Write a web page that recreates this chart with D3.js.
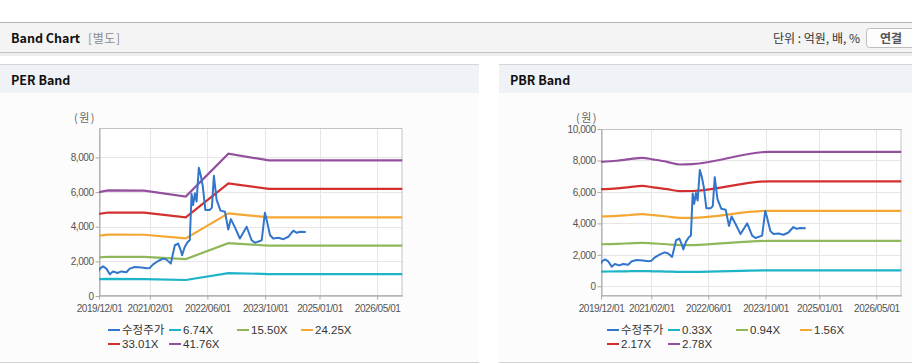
<!DOCTYPE html>
<html>
<head>
<meta charset="utf-8">
<script src="https://cdn.jsdelivr.net/npm/d3@7"></script>
<style>
body { margin: 0; background: #fff; }
svg { display: block; font-family: "Liberation Sans", Arial, "Noto Sans CJK KR", sans-serif; }
</style>
</head>
<body>
<svg id="vis" width="912" height="364"></svg>
<script>
// adjusted share price (수정주가)
var priceDates = ['2019-12-01','2019-12-08','2020-01-04','2020-02-01','2020-03-01','2020-03-28','2020-05-04','2020-06-07',
  '2020-07-19','2020-08-16','2020-09-27','2020-11-23','2021-01-07','2021-02-01','2021-03-01','2021-04-12','2021-05-24',
  '2021-06-22','2021-07-28','2021-08-31','2021-09-28','2021-10-20','2021-10-31','2021-11-23','2021-12-16','2022-01-04',
  '2022-01-19','2022-02-01','2022-02-16','2022-03-02','2022-03-21','2022-04-07','2022-04-24','2022-05-15','2022-06-22',
  '2022-07-09','2022-07-26','2022-08-18','2022-09-20','2022-10-27','2022-11-24','2022-12-16','2023-01-19','2023-03-02',
  '2023-04-28','2023-06-09','2023-07-07','2023-09-02','2023-09-29','2023-10-14','2023-11-11','2023-12-08','2024-01-20',
  '2024-03-02','2024-04-13','2024-05-25','2024-06-23','2024-07-21','2024-09-07']
var priceValues = [1450,1580,1710,1580,1250,1420,1330,1420,
  1370,1580,1670,1640,1600,1620,1830,2020,2160,
  2100,1870,2930,3030,2640,2350,2840,3100,3230,
  5900,5250,5930,5450,7400,6950,6300,4970,4970,
  5100,6940,5550,4930,4870,3840,4440,3960,3320,
  4000,3220,3070,3220,4810,4380,3510,3320,3360,
  3280,3420,3770,3650,3710,3690]

// PER band
var perDates = ['2019-12-01','2020-02-15','2020-12-15','2021-12-01','2022-11-25','2023-11-01','2026-12-01']
var perLabels = ['6.74X','15.50X','24.25X','33.01X','41.76X']
var per1 = [970, 985, 980, 925, 1325, 1265, 1265]
var per2 = [2230, 2265, 2260, 2130, 3050, 2905, 2905]
var per3 = [3485, 3540, 3535, 3330, 4770, 4545, 4545]
var per4 = [4745, 4820, 4810, 4535, 6495, 6190, 6190]
var per5 = [6000, 6095, 6085, 5740, 8215, 7830, 7830]

// PBR band
var pbrDates = ['2019-12-01','2020-04-15','2020-08-01','2020-11-15','2021-02-15','2021-06-15','2021-10-01','2022-01-15','2023-11-01','2026-12-01']
var pbrLabels = ['0.33X','0.94X','1.56X','2.17X','2.78X']
var pbr1 = [940, 945, 960, 970, 955, 940, 920, 920, 1015, 1015]
var pbr2 = [2675, 2700, 2735, 2765, 2725, 2675, 2620, 2625, 2890, 2890]
var pbr3 = [4440, 4475, 4535, 4585, 4525, 4440, 4350, 4355, 4800, 4800]
var pbr4 = [6175, 6230, 6310, 6380, 6295, 6175, 6050, 6060, 6675, 6675]
var pbr5 = [7910, 7980, 8085, 8170, 8065, 7915, 7745, 7765, 8550, 8550]

var xTicks = ['2019-12-01','2021-02-01','2022-06-01','2023-10-01','2025-01-01','2026-05-01']
var xDomain = ['2019-12-01','2026-12-01']
var perTicks = [0, 2000, 4000, 6000, 8000]
var pbrTicks = [0, 2000, 4000, 6000, 8000, 10000]

var colors = ['#3276cc', '#1db3c8', '#8fb85b', '#f5a733', '#d32f2f', '#93519d']
var parse = d3.timeParse('%Y-%m-%d')
var kr = '"Noto Sans CJK KR", sans-serif'

var svg = d3.select('#vis')

// page header
svg.append('rect').attr('x', 0).attr('y', 22).attr('width', 912).attr('height', 31).attr('fill', '#f4f4f4')
svg.append('line').attr('x1', 0).attr('x2', 912).attr('y1', 22.5).attr('y2', 22.5).attr('stroke', '#b5b5b5')
svg.append('rect').attr('x', 0).attr('y', 53).attr('width', 912).attr('height', 3).attr('fill', '#ededed')
svg.append('line').attr('x1', 0).attr('x2', 912).attr('y1', 52.5).attr('y2', 52.5).attr('stroke', '#c4c4c4')
svg.append('text').attr('x', 11).attr('y', 43).text('Band Chart')
  .style('font-family', kr).style('font-weight', 'bold').style('font-size', '12.5px').attr('fill', '#111')
svg.append('text').attr('x', 88).attr('y', 43).text('[별도]')
  .style('font-family', kr).style('font-size', '12px').attr('fill', '#8a8a8a').style('letter-spacing', '0.6px')
svg.append('text').attr('x', 860).attr('y', 42.5).attr('text-anchor', 'end').text('단위 : 억원, 배, %')
  .style('font-family', kr).style('font-size', '12px').attr('fill', '#333')
svg.append('rect').attr('x', 866.5).attr('y', 28.5).attr('width', 60).attr('height', 19).attr('rx', 3)
  .attr('fill', '#fdfdfd').attr('stroke', '#bdbdbd')
svg.append('text').attr('x', 891).attr('y', 42.5).attr('text-anchor', 'middle').text('연결')
  .style('font-family', kr).style('font-weight', 'bold').style('font-size', '12px').attr('fill', '#555')

function drawPanel(cfg) {
  var p = svg.append('g')
  p.append('rect').attr('x', cfg.px).attr('y', 64).attr('width', cfg.pw).attr('height', 298).attr('fill', '#fcfcfc')
  p.append('rect').attr('x', cfg.px).attr('y', 65).attr('width', cfg.pw).attr('height', 28).attr('fill', '#eff2f6')
  p.append('line').attr('x1', cfg.px).attr('x2', cfg.px + cfg.pw).attr('y1', 64.5).attr('y2', 64.5).attr('stroke', '#d6d6d6')
  p.append('line').attr('x1', cfg.px).attr('x2', cfg.px + cfg.pw).attr('y1', 362.5).attr('y2', 362.5).attr('stroke', '#d2d2d2')
  p.append('text').attr('x', cfg.px + 11).attr('y', 85).text(cfg.title)
    .style('font-family', kr).style('font-weight', 'bold').style('font-size', '12.5px').attr('fill', '#111')

  var x = d3.scaleTime().domain(xDomain.map(parse)).range([cfg.left, cfg.right])
  var y = d3.scaleLinear().domain(cfg.yDomain).range([cfg.bottom, cfg.top])

  p.append('rect').attr('x', cfg.left).attr('y', cfg.top).attr('width', cfg.right - cfg.left)
    .attr('height', cfg.bottom - cfg.top).attr('fill', '#fff')

  // grid
  p.append('g').selectAll('line').data(cfg.yTicks).enter().append('line')
    .attr('x1', cfg.left).attr('x2', cfg.right)
    .attr('y1', d => Math.round(y(d)) + 0.5).attr('y2', d => Math.round(y(d)) + 0.5)
    .attr('stroke', '#e6e6e6')
  p.append('g').selectAll('line').data(xTicks).enter().append('line')
    .attr('x1', d => Math.round(x(parse(d))) + 0.5).attr('x2', d => Math.round(x(parse(d))) + 0.5)
    .attr('y1', cfg.top).attr('y2', cfg.bottom)
    .attr('stroke', '#e6e6e6')

  p.append('rect').attr('x', cfg.left + 0.5).attr('y', cfg.top + 0.5).attr('width', cfg.right - cfg.left - 1)
    .attr('height', cfg.bottom - cfg.top - 1).attr('fill', 'none').attr('stroke', '#c2c2c2')

  // axes
  var xAxis = p.append('g').attr('transform', 'translate(0,' + (cfg.bottom - 0.5) + ')')
    .call(d3.axisBottom(x).tickValues(xTicks.map(parse)).tickFormat(d3.timeFormat('%Y/%m/%d')).tickSize(4).tickSizeOuter(0))
  var yAxis = p.append('g').attr('transform', 'translate(' + (cfg.left + 0.5) + ',0)')
    .call(d3.axisLeft(y).tickValues(cfg.yTicks).tickFormat(d3.format(',')).tickSize(4).tickSizeOuter(0))
  ;[xAxis, yAxis].forEach(a => {
    a.select('.domain').attr('stroke', '#aaa')
    a.selectAll('.tick line').attr('stroke', '#aaa')
    a.selectAll('.tick text').attr('fill', '#555').style('font-size', '10px')
      .style('font-family', '"Liberation Sans", Arial, sans-serif').style('letter-spacing', '-0.45px')
  })
  xAxis.selectAll('.tick text').attr('dy', '0.95em')
  yAxis.selectAll('.tick text').attr('x', -6)

  p.append('text').attr('x', cfg.left - 14).attr('y', 122).attr('text-anchor', 'middle').text('(원)')
    .style('font-family', kr).style('font-size', '11px').attr('fill', '#666').style('letter-spacing', '1.5px')

  var clipId = 'clip' + cfg.px
  p.append('clipPath').attr('id', clipId).append('rect')
    .attr('x', cfg.left).attr('y', cfg.top).attr('width', cfg.right - cfg.left).attr('height', cfg.bottom - cfg.top)
  var plot = p.append('g').attr('clip-path', 'url(#' + clipId + ')')

  var bandLine = d3.line().x(d => x(d[0])).y(d => y(d[1])).curve(cfg.curve)
  cfg.bands.forEach((vals, i) => {
    var pts = cfg.bandDates.map((d, j) => [parse(d), vals[j]])
    plot.append('path').attr('d', bandLine(pts)).attr('fill', 'none')
      .attr('stroke', colors[i + 1]).attr('stroke-width', 2.2)
  })
  var priceLine = d3.line().x(d => x(d[0])).y(d => y(d[1]))
  var pricePts = priceDates.map((d, j) => [parse(d), priceValues[j]])
  plot.append('path').attr('d', priceLine(pricePts)).attr('fill', 'none')
    .attr('stroke', colors[0]).attr('stroke-width', 2).attr('stroke-linejoin', 'round')

  // legend
  var names = ['수정주가'].concat(cfg.labels)
  var cols = [108, 169, 237, 301]
  var lg = p.append('g').selectAll('g').data(names).enter().append('g')
    .attr('transform', (d, i) => 'translate(' + (cfg.px + cols[i % 4]) + ',' + (i < 4 ? 330 : 344) + ')')
  lg.append('line').attr('x1', 0).attr('x2', 12).attr('y1', 0).attr('y2', 0)
    .attr('stroke', (d, i) => colors[i]).attr('stroke-width', 2)
  lg.append('text').attr('x', 14).attr('y', 4).text(d => d)
    .style('font-size', '11.5px').attr('fill', '#333')
    .style('font-family', '"Liberation Sans", Arial, "Noto Sans CJK KR", sans-serif')
}

drawPanel({
  title: 'PER Band', px: 0, pw: 479,
  left: 99, right: 402.5, top: 128, bottom: 296,
  yDomain: [0, 9700], yTicks: perTicks,
  bandDates: perDates, bands: [per1, per2, per3, per4, per5], labels: perLabels,
  curve: d3.curveLinear
})
drawPanel({
  title: 'PBR Band', px: 499, pw: 413,
  left: 601, right: 901.5, top: 129, bottom: 296,
  yDomain: [-615, 10000], yTicks: pbrTicks,
  bandDates: pbrDates, bands: [pbr1, pbr2, pbr3, pbr4, pbr5], labels: pbrLabels,
  curve: d3.curveMonotoneX
})
</script>
</body>
</html>
